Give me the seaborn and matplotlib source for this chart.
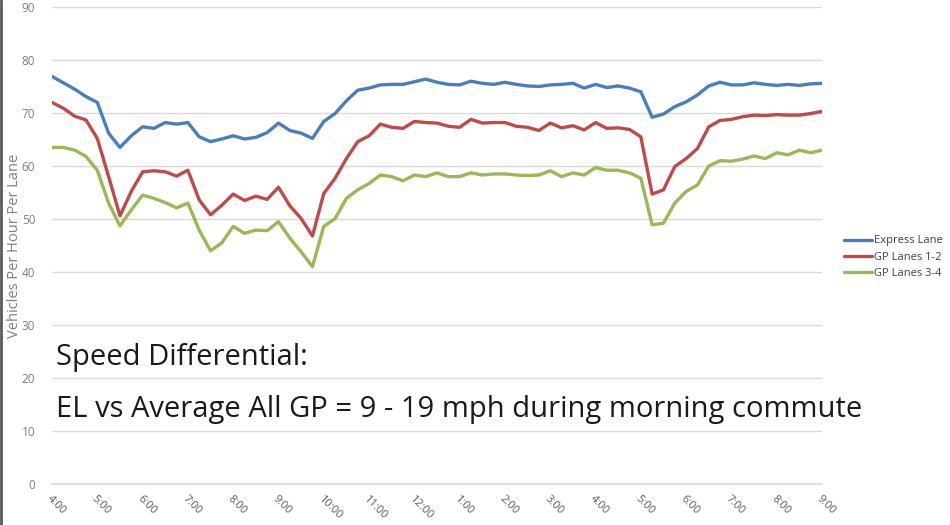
import numpy as np
import pandas as pd
import seaborn as sns
import matplotlib.pyplot as plt
from matplotlib.lines import Line2D

# 15 minute samples from 4:00 am to 9:00 pm
hours = np.arange(4, 21.001, 0.25)

express = [76.9, 75.7, 74.5, 73.1, 72.0, 66.2, 63.5, 65.7, 67.4, 67.1, 68.2, 67.9,
           68.2, 65.5, 64.6, 65.1, 65.7, 65.1, 65.4, 66.3, 68.1, 66.7, 66.2, 65.2,
           68.4, 69.9, 72.3, 74.3, 74.7, 75.3, 75.4, 75.4, 75.9, 76.4, 75.8, 75.4,
           75.3, 76.0, 75.6, 75.4, 75.8, 75.4, 75.1, 75.0, 75.3, 75.4, 75.6, 74.7,
           75.4, 74.8, 75.1, 74.7, 74.0, 69.2, 69.8, 71.2, 72.1, 73.4, 75.1, 75.8,
           75.3, 75.3, 75.7, 75.4, 75.2, 75.4, 75.2, 75.5, 75.6]

gp12 = [72.0, 70.9, 69.4, 68.7, 65.2, 58.0, 50.6, 55.2, 58.9, 59.1, 58.9, 58.1,
        59.2, 53.6, 50.8, 52.6, 54.7, 53.5, 54.3, 53.7, 56.0, 52.5, 50.1, 46.8,
        54.8, 57.7, 61.4, 64.6, 65.7, 67.9, 67.3, 67.1, 68.4, 68.2, 68.1, 67.5,
        67.3, 68.8, 68.1, 68.2, 68.2, 67.5, 67.3, 66.7, 68.1, 67.2, 67.6, 66.8,
        68.2, 67.1, 67.2, 66.9, 65.5, 54.7, 55.5, 59.9, 61.4, 63.3, 67.4, 68.6,
        68.8, 69.3, 69.6, 69.5, 69.7, 69.6, 69.6, 69.9, 70.3]

gp34 = [63.5, 63.5, 63.0, 61.8, 59.2, 53.0, 48.7, 51.7, 54.5, 53.9, 53.1, 52.1,
        53.0, 47.9, 44.0, 45.5, 48.6, 47.3, 47.9, 47.8, 49.5, 46.4, 43.8, 41.0,
        48.6, 50.1, 53.9, 55.5, 56.7, 58.3, 58.0, 57.2, 58.3, 58.0, 58.7, 58.0,
        58.0, 58.7, 58.3, 58.5, 58.5, 58.3, 58.2, 58.3, 59.1, 58.0, 58.7, 58.3,
        59.7, 59.2, 59.2, 58.7, 57.7, 48.9, 49.2, 53.0, 55.2, 56.4, 60.0, 61.0,
        60.9, 61.3, 61.9, 61.4, 62.5, 62.1, 63.0, 62.5, 63.0]

series = ['Express Lane', 'GP Lanes 1-2', 'GP Lanes 3-4']
colors = ['#4a7ebb', '#be4b48', '#98b954']

tick_hours = list(range(4, 22))
tick_labels = ['4:00', '5:00', '6:00', '7:00', '8:00', '9:00', '10:00', '11:00', '12:00',
               '1:00', '2:00', '3:00', '4:00', '5:00', '6:00', '7:00', '8:00', '9:00']

df = pd.DataFrame({'hour': np.tile(hours, 3),
                   'value': express + gp12 + gp34,
                   'series': np.repeat(series, len(hours))})

sns.set_theme(style='white')
plt.rcParams['font.family'] = ['Open Sans', 'DejaVu Sans']

fig = plt.figure(figsize=(9.5, 5.25), dpi=100)
ax = fig.add_axes([52 / 950, 1 - 484 / 525, (822 - 52) / 950, (484 - 7) / 525])

sns.lineplot(data=df, x='hour', y='value', hue='series', hue_order=series,
             palette=colors, linewidth=2.4, ax=ax, legend=False)
for ln in ax.lines:
    ln.set_solid_joinstyle('round')
    ln.set_solid_capstyle('round')

ax.set_xlim(4, 21)
ax.set_ylim(0, 90)
ax.set_yticks(range(0, 91, 10))
ax.set_xticks(tick_hours)
ax.set_xticklabels(tick_labels, rotation=-45, ha='left', va='top',
                   rotation_mode='anchor')
ax.tick_params(axis='x', colors='#d9d9d9', length=4, width=1, pad=3,
               labelcolor='#595959', labelsize=8)
ax.tick_params(axis='y', length=0, pad=12, labelcolor='#7f7f7f', labelsize=8.5)
ax.grid(axis='y', color='#d9d9d9', linewidth=1)
ax.set_axisbelow(True)
for s in ['top', 'right', 'left']:
    ax.spines[s].set_visible(False)
ax.spines['bottom'].set_color('#d9d9d9')
ax.set_xlabel('')
ax.set_ylabel('Vehicles Per Hour Per Lane', color='#7f7f7f', fontsize=10.5)
ax.yaxis.set_label_coords(-30 / 770, 0.5)

# big annotation text over the lower part of the plot
ax.text(56 / 950, 1 - 358 / 525, 'Speed Differential:', transform=fig.transFigure,
        fontsize=21, color='#1a1a1a', va='center', ha='left')
ax.text(56 / 950, 1 - 410 / 525,
        'EL vs Average All GP = 9 - 19 mph during morning commute',
        transform=fig.transFigure, fontsize=21, color='#1a1a1a', va='center', ha='left')

handles = [Line2D([0], [0], color=c, linewidth=2.4) for c in colors]
fig.legend(handles, series, loc='center left', bbox_to_anchor=(838 / 950, 1 - 257 / 525),
           frameon=False, fontsize=8, handlelength=2.6, handletextpad=0.15,
           labelspacing=0.45, borderpad=0, labelcolor='#404040')

fig.add_artist(Line2D([1 / 950, 1 / 950], [0, 1], color='#595959', linewidth=2,
                      transform=fig.transFigure))

fig.savefig('out.png', dpi=100)
